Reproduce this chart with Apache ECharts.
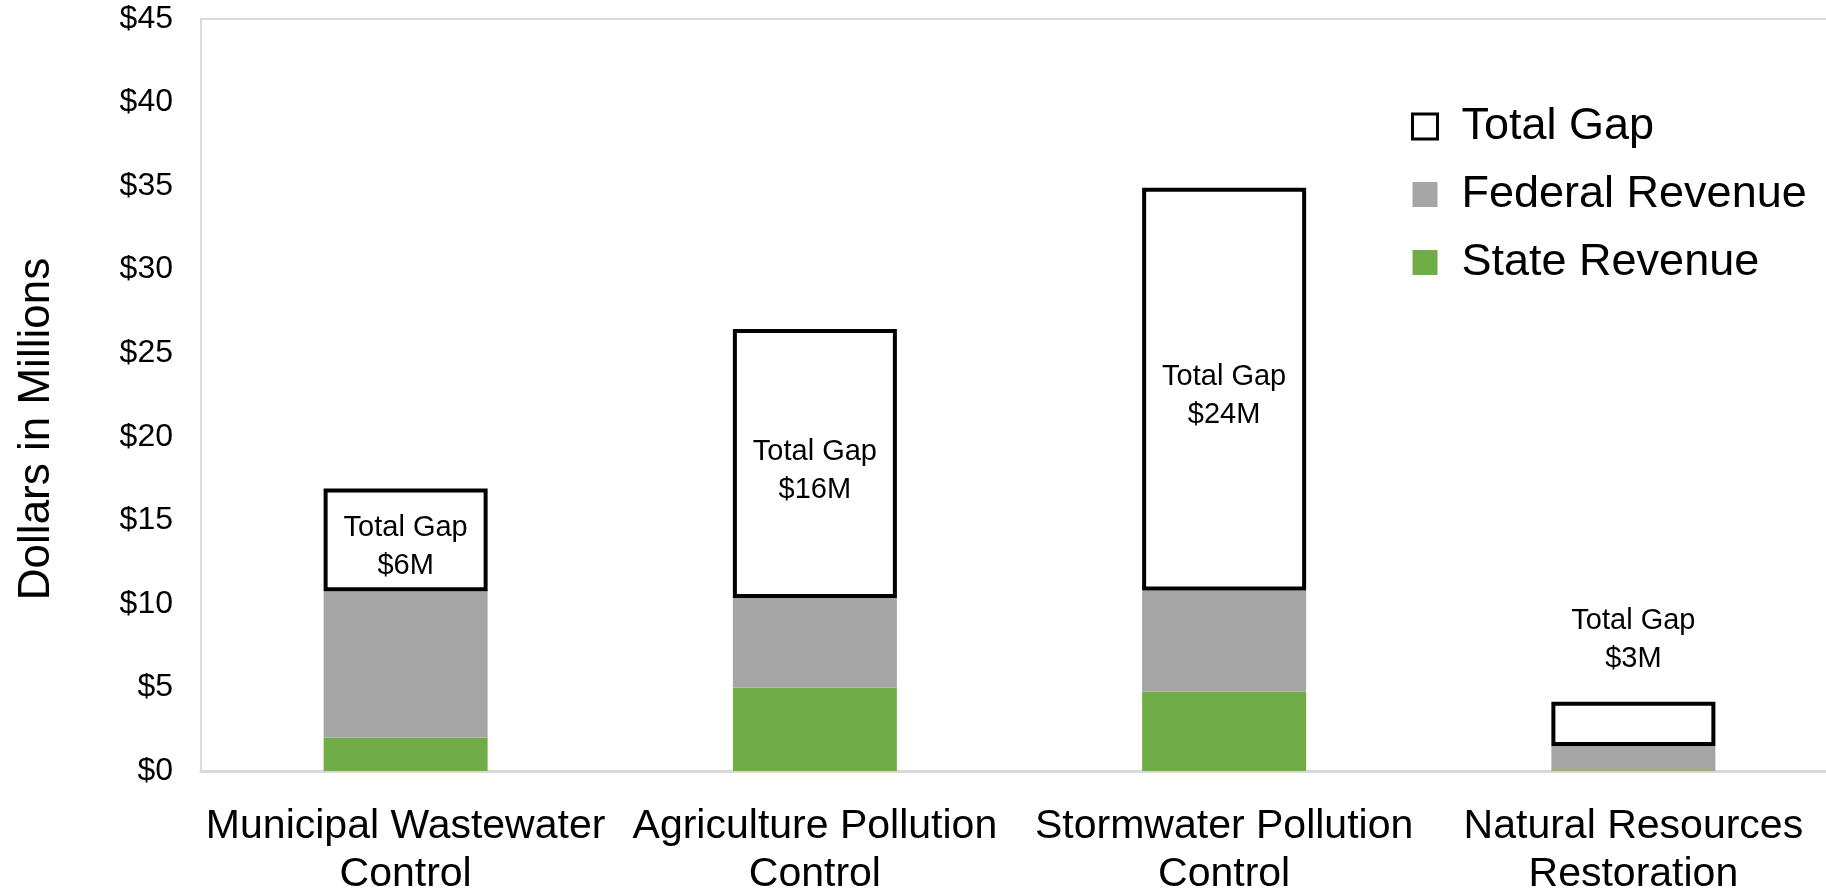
<!DOCTYPE html>
<html>
<head>
<meta charset="utf-8">
<script src="https://cdn.jsdelivr.net/npm/echarts@6/dist/echarts.min.js"></script>
<style>
html,body{margin:0;padding:0;background:#fff;}
#chart{width:1826px;height:891px;}
</style>
</head>
<body>
<div id="chart"></div>
<script>
const categories = ['Municipal Wastewater\nControl', 'Agriculture Pollution\nControl', 'Stormwater Pollution\nControl', 'Natural Resources\nRestoration'];
const stateRevenue = [2.0, 5.0, 4.75, 0.05];
const federalRevenue = [8.75, 5.35, 6.05, 1.45];
const totalGap = [6.15, 16.1, 24.1, 2.65];
const gapLabels = ['$6M', '$16M', '$24M', '$3M'];
const yMin = 0, yMax = 45, yStep = 5;

const chart = echarts.init(document.getElementById('chart'), null, {renderer: 'canvas'});
const FONT = 'Liberation Sans, Arial, sans-serif';

const gapData = totalGap.map((v, i) => {
  const item = {value: v};
  if (v < 5) {
    item.label = {position: 'top', distance: 24, offset: [0, 0]};
  }
  return item;
});

const option = {
  backgroundColor: '#ffffff',
  animation: false,
  grid: {
    left: 201, top: 19, bottom: 120, right: -12,
    containLabel: false,
    outerBoundsMode: 'none',
    show: true, borderColor: '#d9d9d9', borderWidth: 2, backgroundColor: 'transparent'
  },
  legend: {
    orient: 'vertical',
    left: 1406, top: 99,
    itemWidth: 25, itemHeight: 25,
    itemGap: 23,
    textStyle: {fontFamily: FONT, fontSize: 45, color: '#000', lineHeight: 44, padding: [0, 0, 0, 19]},
    data: [
      {name: 'Total Gap', icon: 'rect', itemStyle: {color: '#ffffff', borderColor: '#000000', borderWidth: 3}},
      {name: 'Federal Revenue', icon: 'rect', itemStyle: {color: '#a5a5a5', borderWidth: 0}},
      {name: 'State Revenue', icon: 'rect', itemStyle: {color: '#70ad47', borderWidth: 0}}
    ]
  },
  xAxis: {
    type: 'category',
    data: categories,
    axisTick: {show: false},
    axisLine: {show: true, lineStyle: {color: '#d9d9d9', width: 3}},
    axisLabel: {fontFamily: FONT, fontSize: 41, color: '#000', lineHeight: 48, margin: 32, interval: 0}
  },
  yAxis: {
    type: 'value',
    min: yMin, max: yMax, interval: yStep,
    splitLine: {show: false},
    axisLine: {show: false},
    axisTick: {show: false},
    axisLabel: {fontFamily: FONT, fontSize: 32, color: '#000', margin: 28, formatter: v => '$' + v},
    name: 'Dollars in Millions',
    nameLocation: 'middle',
    nameRotate: 90,
    nameGap: 142,
    nameTextStyle: {fontFamily: FONT, fontSize: 44, color: '#000', padding: [0, 68, 0, 0]}
  },
  series: [
    {
      name: 'State Revenue', type: 'bar', stack: 'total', barWidth: 164,
      data: stateRevenue,
      itemStyle: {color: '#70ad47'}
    },
    {
      name: 'Federal Revenue', type: 'bar', stack: 'total', barWidth: 164,
      data: federalRevenue,
      itemStyle: {color: '#a5a5a5'}
    },
    {
      name: 'Total Gap', type: 'bar', stack: 'total', barWidth: 164,
      data: gapData,
      itemStyle: {color: '#ffffff', borderColor: '#000000', borderWidth: 4},
      label: {
        show: true, position: 'inside', offset: [0, 7],
        fontFamily: FONT, fontSize: 29, color: '#000', lineHeight: 38,
        formatter: p => 'Total Gap\n' + gapLabels[p.dataIndex]
      }
    }
  ]
};
chart.setOption(option);
</script>
</body>
</html>
